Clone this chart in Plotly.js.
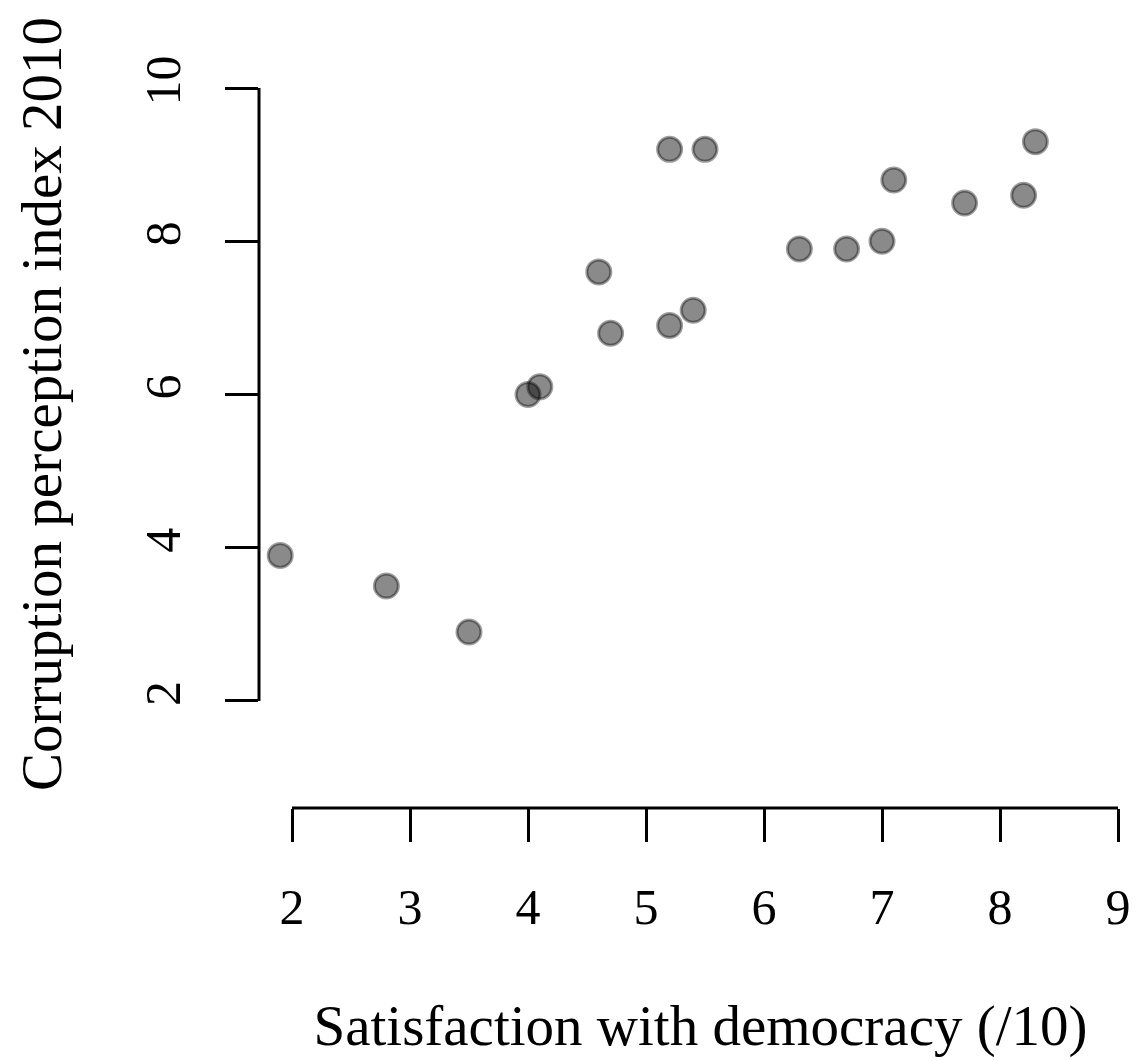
<!DOCTYPE html>
<html>
<head>
<meta charset="utf-8">
<script src="https://cdn.plot.ly/plotly-3.0.1.min.js"></script>
<style>html,body{margin:0;padding:0;background:#fff;}</style>
</head>
<body>
<div id="chart" style="width:1142px;height:1061px;"></div>
<script>
// Satisfaction with democracy (/10)
const satisfaction = [1.9, 2.8, 3.5, 4.0, 4.1, 4.6, 4.7, 5.2, 5.2, 5.5, 5.4, 6.3, 6.7, 7.0, 7.1, 7.7, 8.2, 8.3];
// Corruption perception index 2010
const cpi = [3.9, 3.5, 2.9, 6.0, 6.1, 7.6, 6.8, 6.9, 9.2, 9.2, 7.1, 7.9, 7.9, 8.0, 8.8, 8.5, 8.6, 9.3];
const xTicks = [2, 3, 4, 5, 6, 7, 8, 9];
const yTicks = [2, 4, 6, 8, 10];

const FONT = 'Liberation Serif, DejaVu Serif, serif';

const trace = {
  x: satisfaction,
  y: cpi,
  type: 'scatter',
  mode: 'markers',
  marker: {
    size: 24,
    color: 'rgba(0,0,0,0.46)',
    line: {color: 'rgba(0,0,0,0.38)', width: 3}
  },
  hoverinfo: 'x+y',
  showlegend: false
};

const layout = {
  width: 1142,
  height: 1061,
  margin: {l: 259, r: 0, t: 0, b: 253},
  paper_bgcolor: '#ffffff',
  plot_bgcolor: '#ffffff',
  font: {family: FONT, size: 50, color: '#000'},
  xaxis: {
    range: [1.7203, 9.2034],
    tickvals: xTicks,
    ticktext: xTicks.map(String),
    ticks: 'outside',
    ticklen: 33,
    tickwidth: 3,
    tickcolor: '#000',
    ticklabelstandoff: 22,
    showline: false,
    showgrid: false,
    zeroline: false,
    tickfont: {family: FONT, size: 50, color: '#000'},
    title: {text: 'Satisfaction with democracy (/10)', font: {family: FONT, size: 57, color: '#000'}, standoff: 71}
  },
  yaxis: {
    range: [0.603, 11.149],
    tickvals: yTicks,
    ticktext: yTicks.map(String),
    ticks: 'outside',
    ticklen: 33,
    tickwidth: 3,
    tickcolor: '#000',
    tickangle: -90,
    ticklabelstandoff: 25,
    showline: false,
    showgrid: false,
    zeroline: false,
    tickfont: {family: FONT, size: 50, color: '#000'},
    title: {text: 'Corruption perception index 2010', font: {family: FONT, size: 57, color: '#000'}, standoff: 55}
  },
  shapes: [
    {type: 'line', xref: 'x', yref: 'paper', x0: xTicks[0], x1: xTicks[xTicks.length - 1], y0: 0, y1: 0, line: {color: '#000', width: 3}},
    {type: 'line', xref: 'paper', yref: 'y', x0: 0, x1: 0, y0: yTicks[0], y1: yTicks[yTicks.length - 1], line: {color: '#000', width: 3}}
  ]
};

Plotly.newPlot('chart', [trace], layout, {displayModeBar: false, staticPlot: true});
</script>
</body>
</html>
